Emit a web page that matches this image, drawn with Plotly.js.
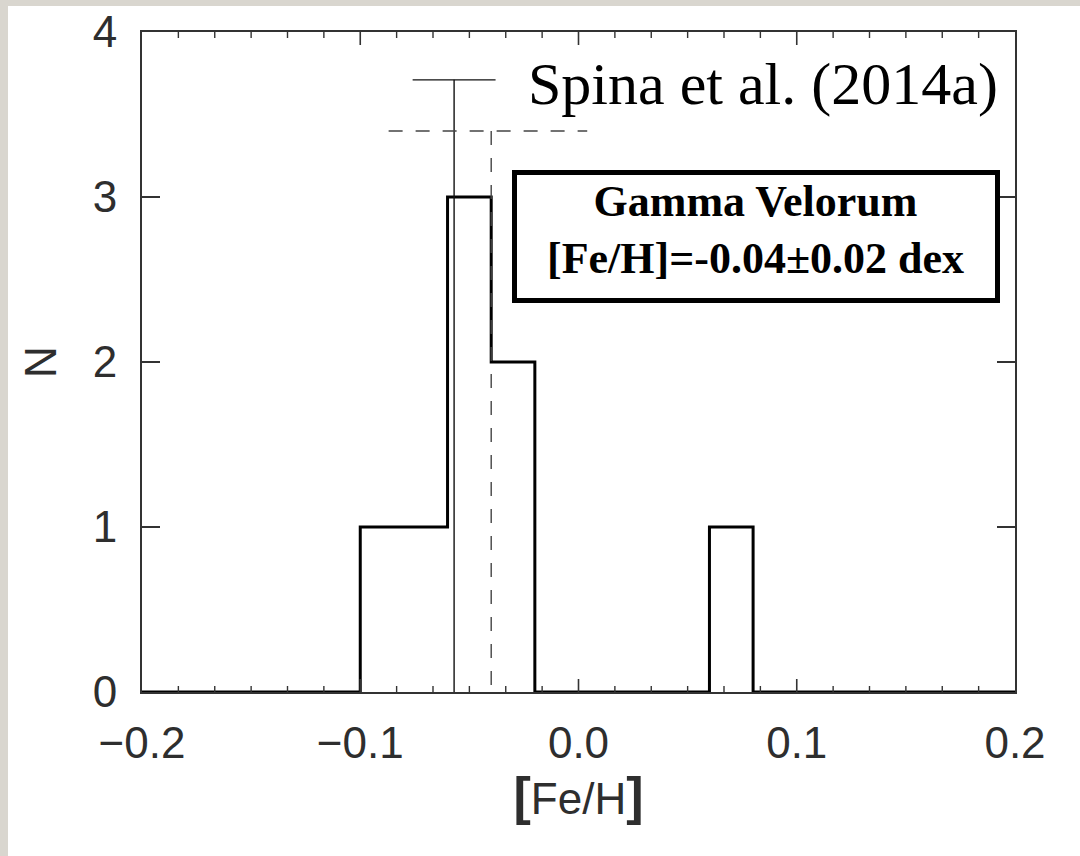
<!DOCTYPE html>
<html>
<head>
<meta charset="utf-8">
<script src="https://cdn.plot.ly/plotly-3.0.1.min.js"></script>
<style>
  html, body { margin: 0; padding: 0; background: #d9d6cf; overflow: hidden; }
  #chart { position: absolute; left: 8px; top: 6px; width: 1072px; height: 850px; }
</style>
</head>
<body>
<div id="chart"></div>
<script>
// Histogram of [Fe/H] for Gamma Velorum members (bin width 0.02 dex)
const binEdges = [-0.20, -0.18, -0.16, -0.14, -0.12, -0.10, -0.08, -0.06, -0.04, -0.02,
                  0.00, 0.02, 0.04, 0.06, 0.08, 0.10, 0.12, 0.14, 0.16, 0.18, 0.20];
const binCounts = [0, 0, 0, 0, 0, 1, 1, 3, 2, 0, 0, 0, 0, 1, 0, 0, 0, 0, 0, 0];

// Literature value: Spina et al. (2014a)
const spinaFeH = -0.057;
const spinaErr = 0.019;
const spinaHeight = 3.71;

// Mean of this sample and its spread marker
const meanFeH = -0.04;
const meanErr = 0.02;
const spreadLow = -0.087;
const spreadHigh = 0.004;
const meanHeight = 3.4;

// Axis ticks
const xRange = [-0.2, 0.2];
const xMajorStep = 0.1;
const xMinorPerMajor = 6;
const yRange = [0, 4];
const yTickStep = 1;

const stepY = binCounts.concat([binCounts[binCounts.length - 1]]);

const traces = [
  {
    x: binEdges, y: stepY, type: 'scatter', mode: 'lines',
    line: { shape: 'hv', color: '#000', width: 3 }
  },
  {
    x: [spinaFeH, spinaFeH], y: [0, spinaHeight], type: 'scatter', mode: 'lines',
    line: { color: '#111', width: 1.4 }
  },
  {
    x: [spinaFeH - spinaErr, spinaFeH + spinaErr], y: [spinaHeight, spinaHeight],
    type: 'scatter', mode: 'lines',
    line: { color: '#111', width: 1.4 }
  },
  {
    x: [spreadLow, spreadHigh], y: [meanHeight, meanHeight], type: 'scatter', mode: 'lines',
    line: { color: '#444', width: 1.4, dash: '14px,13px' }
  },
  {
    x: [meanFeH, meanFeH], y: [meanHeight, 0], type: 'scatter', mode: 'lines',
    line: { color: '#444', width: 1.4, dash: '14px,13px' }
  }
];

const sans = 'Liberation Sans, Arial, sans-serif';
const serif = 'Liberation Serif, Times New Roman, serif';
const tickFont = { family: sans, size: 44, color: '#2e2e2e' };

const plotW = 1072, plotH = 850;
const margin = { l: 134, r: 65, t: 26, b: 164 };
const innerH = plotH - margin.t - margin.b;

// Inward x tick marks on the bottom and top frame edges, placed in data units
// along the x axis; lengths are given in pixels and turned into plot fractions.
function tickShapes() {
  const shapes = [];
  const majorLen = 13 / innerH;
  const minorLen = 6 / innerH;
  const nMajor = Math.round((xRange[1] - xRange[0]) / xMajorStep);
  for (let i = 0; i < nMajor; i++) {
    const base = xRange[0] + i * xMajorStep;
    for (let k = 0; k < xMinorPerMajor; k++) {
      if (i === 0 && k === 0) continue; // frame corner
      const xv = base + k * xMajorStep / xMinorPerMajor;
      const len = k === 0 ? majorLen : minorLen;
      const w = k === 0 ? 1.6 : 1.4;
      [[0, len], [1, 1 - len]].forEach(function (seg) {
        shapes.push({
          type: 'line', xref: 'x', yref: 'paper',
          x0: xv, x1: xv, y0: seg[0], y1: seg[1],
          line: { color: '#333', width: w }
        });
      });
    }
  }
  return shapes;
}

const boxX = 0.0813;
const boxY = 2.76;

const layout = {
  width: plotW, height: plotH,
  margin: margin,
  paper_bgcolor: '#fff',
  plot_bgcolor: '#fff',
  showlegend: false,
  xaxis: {
    range: xRange, autorange: false,
    tickmode: 'linear', tick0: xRange[0], dtick: xMajorStep, tickformat: '.1f',
    ticks: '',
    showline: true, linecolor: '#333', linewidth: 2, mirror: true,
    showgrid: false, zeroline: false,
    tickfont: tickFont, ticklabelstandoff: 11,
    title: {
      text: '<span style="font-size:52px"><b>[</b></span>Fe/H<span style="font-size:52px"><b>]</b></span>',
      font: { family: sans, size: 44, color: '#2e2e2e' }, standoff: 8
    }
  },
  yaxis: {
    range: yRange, autorange: false,
    tickmode: 'linear', tick0: yRange[0], dtick: yTickStep,
    ticks: 'inside', ticklen: 18, tickwidth: 1.6, tickcolor: '#333',
    showline: true, linecolor: '#333', linewidth: 2, mirror: 'ticks',
    showgrid: false, zeroline: false,
    tickfont: tickFont, ticklabelstandoff: 14,
    title: { text: 'N', font: { family: sans, size: 44, color: '#2e2e2e' }, standoff: 22 }
  },
  shapes: tickShapes(),
  annotations: [
    {
      x: 0.1931, y: 3.685, xref: 'x', yref: 'y',
      xanchor: 'right', yanchor: 'middle', showarrow: false,
      text: 'Spina et al. (2014a)',
      font: { family: serif, size: 60, color: '#000' }
    },
    // framed box
    {
      x: boxX, y: boxY, xref: 'x', yref: 'y',
      xanchor: 'center', yanchor: 'middle', showarrow: false,
      text: ' ',
      font: { family: serif, size: 20, color: '#000' },
      bordercolor: '#000', borderwidth: 5, borderpad: 4,
      bgcolor: '#ffffff', width: 470, height: 115
    },
    // box contents
    {
      x: boxX, y: boxY, xref: 'x', yref: 'y',
      xanchor: 'center', yanchor: 'middle', showarrow: false, yshift: 7,
      text: '<b>Gamma Velorum</b><br><b>[Fe/H]=' + meanFeH.toFixed(2) + '\u00b1' + meanErr.toFixed(2) + ' dex</b>',
      font: { family: serif, size: 44, color: '#000' },
      align: 'center'
    }
  ]
};

Plotly.newPlot('chart', traces, layout, { staticPlot: true });
</script>
</body>
</html>
